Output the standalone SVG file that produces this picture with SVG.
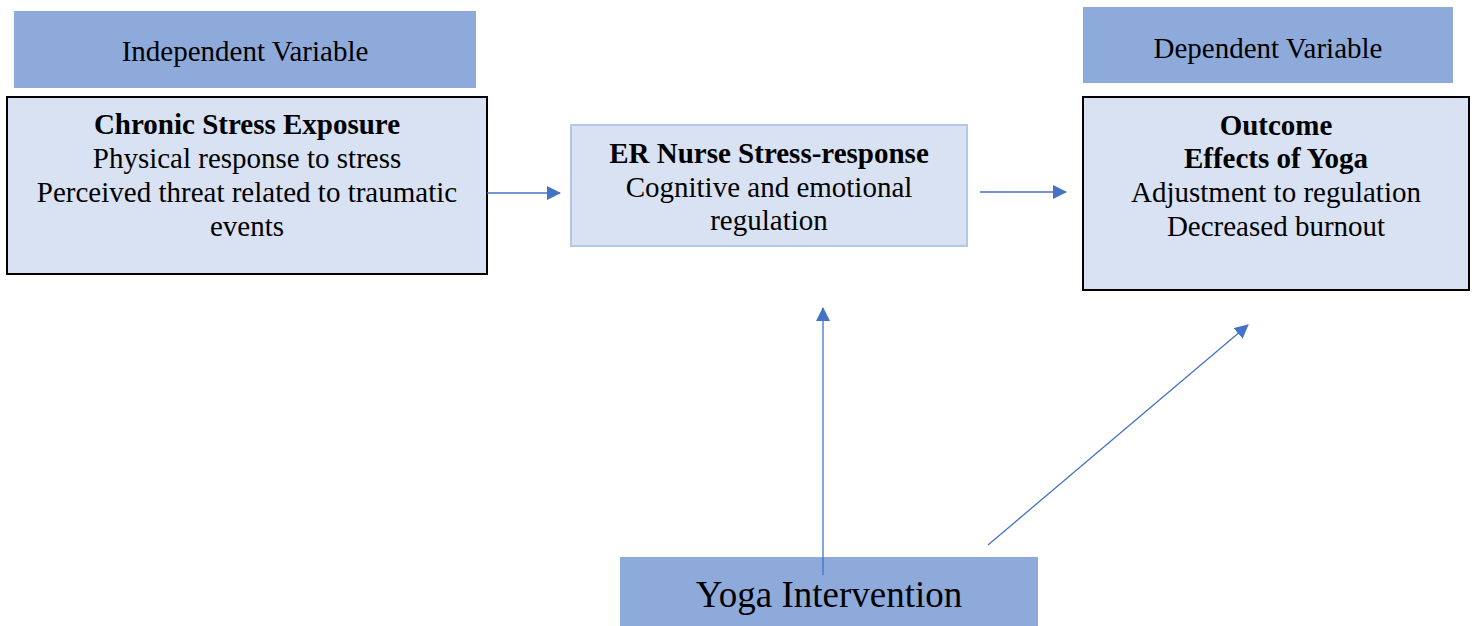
<svg xmlns="http://www.w3.org/2000/svg" width="1477" height="626" viewBox="0 0 1477 626">
<style>
  .hdr { fill: #8EAADB; }
  .box { fill: #D9E2F3; stroke: #000; stroke-width: 2; }
  .box2 { fill: #D9E2F3; stroke: #B4C7E7; stroke-width: 2; }
  text { font-family: 'Liberation Serif', 'DejaVu Serif', serif; font-size: 29px; fill: #000; text-anchor: middle; }
  .b { font-weight: bold; }
  .big { font-size: 37px; }
  .conn { stroke: #4472C4; stroke-width: 1.3; fill: none; }
</style>
<defs>
  <marker id="ah" markerWidth="14" markerHeight="14" refX="13" refY="7" orient="auto" markerUnits="userSpaceOnUse">
    <path d="M0,0 L14,7 L0,14 Z" fill="#4472C4"/>
  </marker>
</defs>
<rect width="1477" height="626" fill="#fff"/>
<g id="independent-label">
  <rect class="hdr" x="14" y="11" width="462" height="77"/>
  <text x="245" y="61">Independent Variable</text>
</g>
<g id="chronic-stress">
  <rect class="box" x="7" y="97" width="480" height="177"/>
  <text class="b" x="247" y="134">Chronic Stress Exposure</text>
  <text x="247" y="168">Physical response to stress</text>
  <text x="247" y="202">Perceived threat related to traumatic</text>
  <text x="247" y="236">events</text>
</g>
<g id="er-nurse">
  <rect class="box2" x="571" y="125" width="396" height="121"/>
  <text class="b" x="769" y="163">ER Nurse Stress-response</text>
  <text x="769" y="197">Cognitive and emotional</text>
  <text x="769" y="230">regulation</text>
</g>
<g id="dependent-label">
  <rect class="hdr" x="1083" y="7" width="370" height="76"/>
  <text x="1268" y="58">Dependent Variable</text>
</g>
<g id="outcome">
  <rect class="box" x="1083" y="97" width="386" height="193"/>
  <text class="b" x="1276" y="135">Outcome</text>
  <text class="b" x="1276" y="168">Effects of Yoga</text>
  <text x="1276" y="202">Adjustment to regulation</text>
  <text x="1276" y="236">Decreased burnout</text>
</g>
<g id="yoga">
  <rect class="hdr" x="620" y="557" width="418" height="69"/>
  <text class="big" x="829" y="607">Yoga Intervention</text>
</g>
<g id="connectors">
  <line class="conn" x1="487" y1="193" x2="560" y2="193" marker-end="url(#ah)"/>
  <line class="conn" x1="980" y1="192" x2="1066" y2="192" marker-end="url(#ah)"/>
  <line class="conn" x1="823" y1="575" x2="823" y2="308" marker-end="url(#ah)"/>
  <line class="conn" x1="988" y1="545" x2="1248" y2="325" marker-end="url(#ah)"/>
</g>
</svg>
